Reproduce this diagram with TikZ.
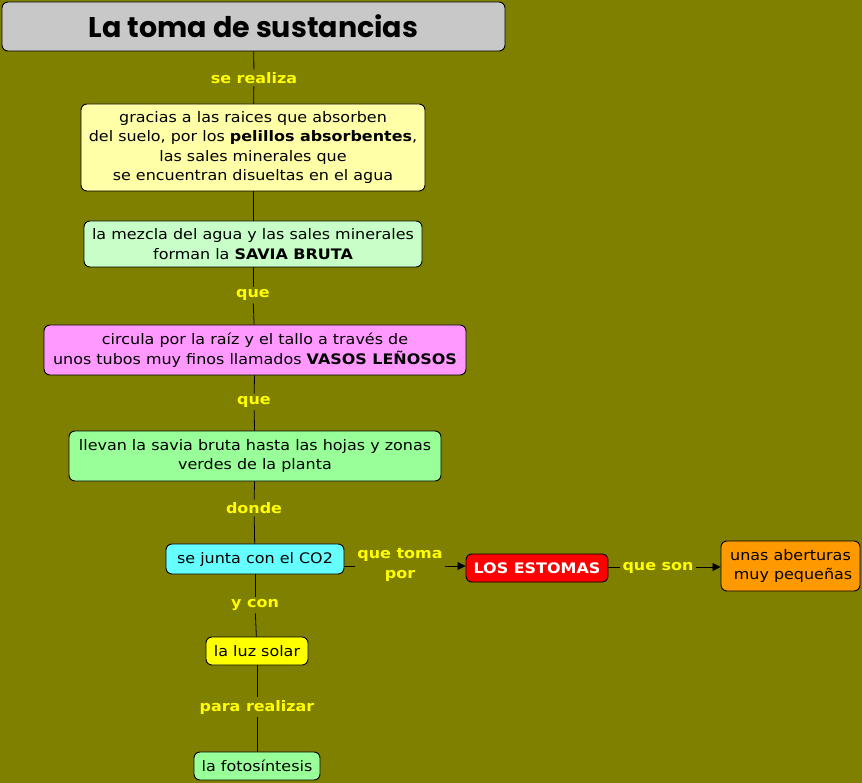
\documentclass[tikz,border=0pt]{standalone}
\usepackage{fontspec}
\setmainfont{DejaVu Sans}[FakeStretch=1.1]
\newfontfamily\titlefont{Poppins}
\usetikzlibrary{arrows.meta}
\definecolor{olive}{HTML}{808000}
\definecolor{titlegray}{HTML}{C8C8C8}
\definecolor{paleyellow}{HTML}{FFFFA8}
\definecolor{palegreen}{HTML}{C8FFC8}
\definecolor{pink}{HTML}{FF99FF}
\definecolor{midgreen}{HTML}{99FF99}
\definecolor{cyanbox}{HTML}{66FFFF}
\definecolor{yellowbox}{HTML}{FFFF00}
\definecolor{redbox}{HTML}{FF0000}
\definecolor{orangebox}{HTML}{FF9900}
\definecolor{lbl}{HTML}{FFFF00}
\tikzset{
  box/.style={draw=black, line width=0.9pt, rounded corners=6pt, align=center,
    inner sep=0pt, font=\fontsize{14.5}{19.5}\selectfont},
  lab/.style={text=lbl, font=\fontsize{14.5}{19.5}\selectfont\bfseries, align=center, inner sep=2.5pt},
  conn/.style={draw=black, line width=0.8pt},
  arr/.style={conn, -{Triangle[length=8pt,width=8pt]}}
}
\begin{document}
\begin{tikzpicture}[x=1pt,y=-1pt]
\fill[olive] (0,0) rectangle (862,783);
\useasboundingbox (0,0) rectangle (862,783);

\node[box, fill=titlegray, minimum width=503pt, minimum height=49pt,
  font=\titlefont\fontsize{28.5}{30}\selectfont\bfseries] (title) at (253.5,26.5) {La toma de sustancias};

\node[lab] (l1) at (254,78) {se realiza};

\node[box, fill=paleyellow, minimum width=344pt, minimum height=87pt] (b1) at (253,147.5)
  {gracias a las raices que absorben\\del suelo, por los \textbf{pelillos absorbentes},\\las sales minerales que\\se encuentran disueltas en el agua};

\node[box, fill=palegreen, minimum width=338pt, minimum height=46pt] (b2) at (253,244)
  {la mezcla del agua y las sales minerales\\forman la \textbf{SAVIA BRUTA}};

\node[lab] (l2) at (253,295) {que};

\node[box, fill=pink, minimum width=422pt, minimum height=50pt] (b3) at (255,350)
  {circula por la raíz y el tallo a través de\\unos tubos muy finos llamados \textbf{VASOS LEÑOSOS}};

\node[lab] (l3) at (254,402) {que};

\node[box, fill=midgreen, minimum width=372pt, minimum height=50pt] (b4) at (255,456)
  {llevan la savia bruta hasta las hojas y zonas\\verdes de la planta};

\node[lab] (l4) at (254,508) {donde};

\node[box, fill=cyanbox, minimum width=178pt, minimum height=30pt] (b5) at (255,559)
  {se junta con el CO2};

\node[lab] (l5) at (255,605) {y con};

\node[box, fill=yellowbox, minimum width=102pt, minimum height=28pt] (b6) at (257,651)
  {la luz solar};

\node[lab] (l6) at (257,707) {para realizar};

\node[box, fill=midgreen, minimum width=126pt, minimum height=28pt] (b7) at (257,766)
  {la fotosíntesis};

\node[lab] (l7) at (400,565) {que toma\\por};

\node[box, fill=redbox, text=white, minimum width=142pt, minimum height=28pt,
  font=\fontsize{14.5}{19.5}\selectfont\bfseries] (est) at (537,568) {LOS ESTOMAS};

\node[lab] (l8) at (658,568) {que son};

\node[box, fill=orangebox, minimum width=139pt, minimum height=50pt] (ab) at (790.5,566)
  {unas aberturas\\\ muy pequeñas};

\draw[conn] (title) -- (l1);
\draw[conn] (l1) -- (b1);
\draw[conn] (b1) -- (b2);
\draw[conn] (b2) -- (l2);
\draw[conn] (l2) -- (b3);
\draw[conn] (b3) -- (l3);
\draw[conn] (l3) -- (b4);
\draw[conn] (b4) -- (l4);
\draw[conn] (l4) -- (b5);
\draw[conn] (b5) -- (l5);
\draw[conn] (l5) -- (b6);
\draw[conn] (b6) -- (l6);
\draw[conn] (l6) -- (b7);
\draw[conn] (b5.east |- 0,566) -- (l7.west |- 0,566);
\draw[arr] (l7.east |- 0,566) -- (est.west |- 0,566);
\draw[conn] (est.east |- 0,567) -- (l8.west |- 0,567);
\draw[arr] (l8.east |- 0,567) -- (ab.west |- 0,567);
\end{tikzpicture}
\end{document}
